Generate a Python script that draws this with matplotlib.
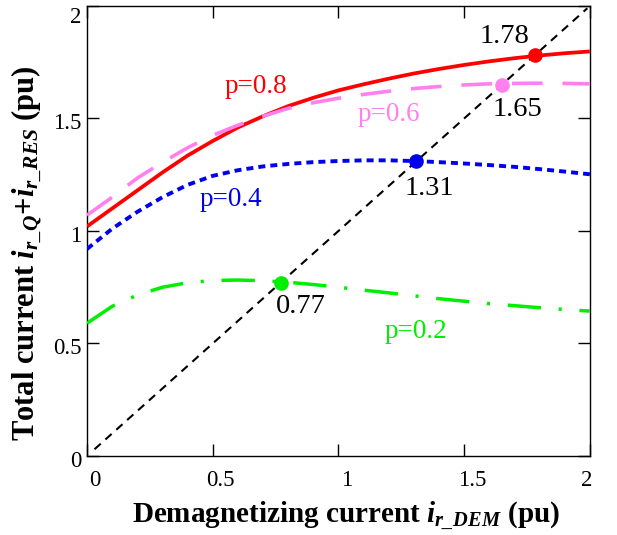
import numpy as np
import matplotlib
matplotlib.use("Agg")
import matplotlib.pyplot as plt
import matplotlib.transforms as mtransforms

plt.rcParams['font.family'] = ['Liberation Serif', 'DejaVu Serif']
plt.rcParams['mathtext.fontset'] = 'custom'
plt.rcParams['mathtext.rm'] = 'Liberation Serif'
plt.rcParams['mathtext.it'] = 'Liberation Serif:italic'
plt.rcParams['mathtext.bf'] = 'Liberation Serif:bold'
plt.rcParams['mathtext.bfit'] = 'Liberation Serif:italic:bold'

# ---------------- data ----------------
x_dem = [0.0, 0.1, 0.2, 0.3, 0.4, 0.5, 0.6, 0.7, 0.8, 0.9, 1.0,
         1.1, 1.2, 1.3, 1.4, 1.5, 1.6, 1.7, 1.8, 1.9, 2.0]
p08 = [1.02, 1.10, 1.18, 1.26, 1.335, 1.40, 1.46, 1.51, 1.555, 1.592, 1.625,
       1.652, 1.677, 1.70, 1.72, 1.738, 1.754, 1.768, 1.78, 1.79, 1.798]
p06 = [1.07, 1.15, 1.235, 1.305, 1.37, 1.425, 1.47, 1.51, 1.545, 1.57, 1.59,
       1.607, 1.621, 1.633, 1.642, 1.649, 1.654, 1.656, 1.657, 1.656, 1.654]
p04 = [0.92, 1.01, 1.085, 1.15, 1.205, 1.245, 1.27, 1.287, 1.298, 1.306, 1.311,
       1.314, 1.314, 1.311, 1.306, 1.30, 1.293, 1.285, 1.275, 1.264, 1.252]
p02 = [0.59, 0.665, 0.715, 0.75, 0.77, 0.78, 0.782, 0.779, 0.772, 0.762, 0.75,
       0.737, 0.725, 0.712, 0.699, 0.688, 0.677, 0.668, 0.659, 0.651, 0.644]
diag = [0.03, 1.99]
op_points = [0.77, 1.31, 1.65, 1.78]
op_colors = ['#00ee00', '#0000ee', '#ff80ee', '#ff0000']
op_labels = ['0.77', '1.31', '1.65', '1.78']
p_labels = ['p=0.8', 'p=0.6', 'p=0.4', 'p=0.2']
xticks = [0, 0.5, 1, 1.5, 2]
xticklabels = ['0', '0.5', '1', '1.5', '2']
yticks = [0, 0.5, 1, 1.5, 2]
yticklabels = ['0', '0.5', '1', '1.5', '2']

# ---------------- figure ----------------
fig = plt.figure(figsize=(6.17, 5.35), dpi=100)
ax = fig.add_axes([0.141, 0.1477, 0.815, 0.8411])

red = '#ff0000'
pink = '#ff80ee'
blue = '#0000ee'
green = '#00ee00'

ax.plot(diag, diag, color='black', lw=1.5, dashes=(4, 3), zorder=2)
ax.plot(x_dem, p08, color=red, lw=2.7, solid_capstyle='butt', zorder=3)
ax.plot(x_dem, p06, color=pink, lw=2.6, dashes=(8.5, 5.5), zorder=3)
ax.plot(x_dem, p04, color=blue, lw=2.8, dashes=(1.8, 1.3), zorder=3)
ax.plot(x_dem, p02, color=green, lw=2.5, dashes=(9.6, 5.1, 0.9, 5.1), zorder=3)

for v, c in zip(op_points, op_colors):
    ax.plot([v], [v], 'o', color=c, ms=9.5, zorder=5)

fs_num = 20.5
num_pos = [(0.85, 0.664), (1.361, 1.19), (1.713, 1.538), (1.66, 1.864)]
for (tx, ty), s in zip(num_pos, op_labels):
    ax.text(tx, ty, s, fontsize=fs_num, ha='center', va='center')

fs_p = 19.5
p_pos = [(0.67, 1.641), (1.202, 1.516), (0.571, 1.138), (1.308, 0.553)]
p_cols = [red, pink, blue, green]
for (tx, ty), s, c in zip(p_pos, p_labels, p_cols):
    ax.text(tx, ty, s, color=c, fontsize=fs_p, ha='center', va='center')

ax.set_xlim(0, 2)
ax.set_ylim(0, 2)
ax.set_xticks(xticks)
ax.set_xticklabels(xticklabels)
ax.set_yticks(yticks)
ax.set_yticklabels(yticklabels)
ax.tick_params(direction='in', length=8.5, width=1.0, top=True, right=True,
               labelsize=16.5)
ax.tick_params(axis='x', pad=10)
ax.tick_params(axis='y', pad=4)
for s in ax.spines.values():
    s.set_linewidth(1.0)

# shift tick labels like the original
for i, lab in enumerate(ax.get_xticklabels()):
    dx = 8 if i < len(xticks) - 1 else -3
    off = mtransforms.ScaledTranslation(dx / 100, 0, fig.dpi_scale_trans)
    lab.set_transform(lab.get_transform() + off)
ylabs = ax.get_yticklabels()
off = mtransforms.ScaledTranslation(0, -9 / 100, fig.dpi_scale_trans)
ylabs[-1].set_transform(ylabs[-1].get_transform() + off)
for lab in ylabs[:-1]:
    off = mtransforms.ScaledTranslation(0, -3 / 100, fig.dpi_scale_trans)
    lab.set_transform(lab.get_transform() + off)

fig.text(345.5 / 617, 1 - 516 / 535,
         r'Demagnetizing current $\mathbfit{i}_{\mathbfit{r\_DEM}}$ (pu)',
         fontsize=21, fontweight='bold', ha='center', va='center')
fig.text(27 / 617, 1 - 253 / 535,
         r'Total current $\mathbfit{i}_{\mathbfit{r\_Q}}$+$\mathbfit{i}_{\mathbfit{r\_RES}}$ (pu)',
         fontsize=22, fontweight='bold', ha='center', va='center', rotation=90)

fig.savefig('out.png', dpi=100)
